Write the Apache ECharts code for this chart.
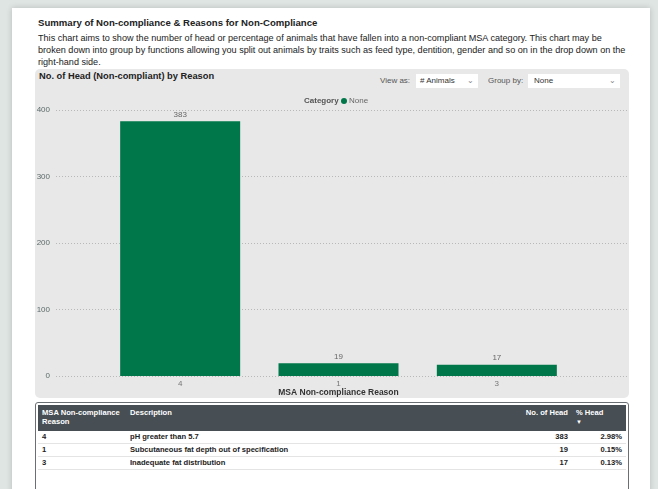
<!DOCTYPE html>
<html>
<head>
<meta charset="utf-8">
<script src="https://cdn.jsdelivr.net/npm/echarts@6/dist/echarts.min.js"></script>
<style>
  body { margin: 0; width: 658px; height: 489px; background: #dfe5e2; overflow: hidden;
         font-family: "Liberation Sans", Arial, sans-serif; position: relative; }
  .card { position: absolute; left: 12px; top: 8px; width: 638px; height: 500px; background: #fff;
          box-shadow: 0 0 6px rgba(0,0,0,0.18); }
  .abs { position: absolute; white-space: nowrap; }
  .panel { position: absolute; left: 35px; top: 69px; width: 594px; height: 329px; background: #e8e8e8;
           border-radius: 5px; }
  .dd { position: absolute; background: #fff; height: 14px; font-size: 8px; color: #333; line-height: 14px; }
  .dd span.ch { position: absolute; right: 4px; top: 0; color: #888; font-size: 8px; }
  #chart { position: absolute; left: 0; top: 0; width: 658px; height: 400px; }
  .tbl { position: absolute; left: 35px; top: 402px; width: 592px; height: 100px; border: 1px solid #6a6f73;
         border-radius: 3px; background: #fff; }
  table { position: absolute; left: 38px; top: 405px; width: 588px; border-collapse: collapse;
          font-size: 7.6px; font-weight: bold; color: #222; }
  th { background: #474e54; color: #fff; text-align: left; vertical-align: top; padding: 3px 4px 0 4px;
       height: 23px; line-height: 9px; }
  td { padding: 0 4px; height: 12px; line-height: 12px; border-bottom: 1px solid #e4e4e4; }
  .r { text-align: right; }
</style>
</head>
<body>
<div class="card"></div>
<div class="abs" style="left:38px;top:17px;font-size:9.6px;font-weight:bold;color:#222;">Summary of Non-compliance &amp; Reasons for Non-Compliance</div>
<div class="abs" style="left:38px;top:32px;width:590px;white-space:normal;font-size:9.1px;line-height:12px;color:#222;">This chart aims to show the number of head or percentage of animals that have fallen into a non-compliant MSA category. This chart may be broken down into group by functions allowing you split out animals by traits such as feed type, dentition, gender and so on in the drop down on the right-hand side.</div>
<div class="panel"></div>
<div class="abs" style="left:39px;top:71px;font-size:9.3px;font-weight:bold;color:#222;">No. of Head (Non-compliant) by Reason</div>
<div class="abs" style="left:380px;top:76px;font-size:8px;color:#555;">View as:</div>
<div class="dd" style="left:416px;top:74px;width:62px;"><span style="padding-left:4px;"># Animals</span><span class="ch">&#8964;</span></div>
<div class="abs" style="left:488px;top:76px;font-size:8px;color:#555;">Group by:</div>
<div class="dd" style="left:528px;top:74px;width:92px;"><span style="padding-left:6px;">None</span><span class="ch">&#8964;</span></div>
<div id="chart"></div>
<div class="tbl"></div>
<table id="tbl"></table>
<script>
  var reasons = ['4', '1', '3'];
  var heads = [383, 19, 17];
  var descriptions = ['pH greater than 5.7', 'Subcutaneous fat depth out of specification', 'Inadequate fat distribution'];
  var pctHead = ['2.98%', '0.15%', '0.13%'];
  var yTicks = [0, 100, 200, 300, 400];

  var GREEN = '#00774a';

  // table under the chart
  var html = '<tr><th style="width:80px">MSA Non-compliance<br>Reason</th><th>Description</th>' +
    '<th class="r" style="width:70px">No. of Head</th><th style="width:46px">% Head<br><span style="font-size:6px">&#9660;</span></th></tr>';
  for (var i = 0; i < reasons.length; i++) {
    html += '<tr><td>' + reasons[i] + '</td><td>' + descriptions[i] + '</td><td class="r">' + heads[i] +
      '</td><td class="r">' + pctHead[i] + '</td></tr>';
  }
  document.getElementById('tbl').innerHTML = html;

  var chart = echarts.init(document.getElementById('chart'));
  chart.setOption({
    animation: false,
    textStyle: { fontFamily: '"Liberation Sans", Arial, sans-serif' },
    title: {
      text: 'Category', left: 299, top: 92,
      textStyle: { fontSize: 8, fontWeight: 'bold', color: '#555' }
    },
    legend: {
      left: 336, top: 92, icon: 'circle', itemWidth: 6, itemHeight: 6, itemGap: 2,
      textStyle: { fontSize: 8, color: '#666', padding: [0, 0, 0, -3] },
      data: ['None']
    },
    grid: [
      { left: 56, right: 30, top: 110, bottom: 24, containLabel: false, outerBoundsMode: 'none' },
      { left: 101, right: 82, top: 110, bottom: 24, containLabel: false, outerBoundsMode: 'none' }
    ],
    xAxis: [
      { gridIndex: 0, type: 'value', show: false, min: 0, max: 1 },
      {
        gridIndex: 1, type: 'category', data: reasons,
        axisLine: { show: false }, axisTick: { show: false },
        axisLabel: { color: '#777', fontSize: 8, margin: 4 },
        name: 'MSA Non-compliance Reason', nameLocation: 'middle', nameGap: 12, nameMoveOverlap: false,
        nameTextStyle: { fontSize: 8.5, fontWeight: 'bold', color: '#333', verticalAlign: 'top' }
      }
    ],
    yAxis: [
      {
        gridIndex: 0, type: 'value', min: yTicks[0], max: yTicks[yTicks.length - 1], interval: 100,
        axisLine: { show: false }, axisTick: { show: false },
        axisLabel: { color: '#5d6a6a', fontSize: 8, margin: 6 },
        splitLine: { lineStyle: { color: '#b8b8b8', type: [1, 2], width: 1 } }
      },
      {
        gridIndex: 1, type: 'value', min: yTicks[0], max: yTicks[yTicks.length - 1], show: false
      }
    ],
    series: [{
      name: 'None', type: 'bar', xAxisIndex: 1, yAxisIndex: 1,
      data: heads, barWidth: 120, itemStyle: { color: GREEN },
      label: { show: true, position: 'top', distance: 3, color: '#666', fontSize: 8 }
    }]
  });
</script>
</body>
</html>
